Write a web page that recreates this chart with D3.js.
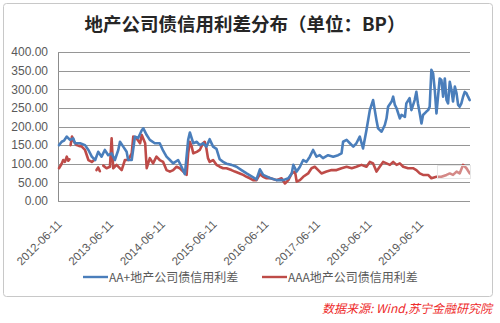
<!DOCTYPE html>
<html>
<head>
<meta charset="utf-8">
<script src="https://cdn.jsdelivr.net/npm/d3@7"></script>
<style>
  html, body { margin: 0; padding: 0; background: #fff; }
  svg { display: block; }
</style>
</head>
<body>
<svg id="chart" width="500" height="323"></svg>
<script>
// ---- data ----
const chartTitle = "地产公司债信用利差分布（单位：BP）";
const sourceNote = "数据来源: Wind,苏宁金融研究院";
const seriesNames = ["AA+地产公司债信用利差", "AAA地产公司债信用利差"];
const yTickValues = [0, 50, 100, 150, 200, 250, 300, 350, 400];
const xTickDates = ["2012-06-11", "2013-06-11", "2014-06-11", "2015-06-11",
                    "2016-06-11", "2017-06-11", "2018-06-11", "2019-06-11"];

// AA+ spread (BP)
const aaPlusDates = [
  "2012-06-11","2012-06-30","2012-07-16","2012-08-05","2012-08-28","2012-09-20","2012-10-02","2012-11-07",
  "2012-12-12","2013-01-05","2013-01-29","2013-02-22","2013-03-15","2013-04-08","2013-05-01","2013-05-25",
  "2013-06-18","2013-07-11","2013-08-04","2013-08-16","2013-09-08","2013-10-02","2013-10-13","2013-11-07",
  "2013-11-30","2013-12-23","2014-01-17","2014-01-28","2014-02-21","2014-03-15","2014-04-19","2014-05-24",
  "2014-06-17","2014-07-11","2014-08-04","2014-08-27","2014-10-01","2014-10-25","2014-11-18","2014-12-11",
  "2014-12-23","2015-01-16","2015-02-10","2015-03-03","2015-03-26","2015-04-19","2015-05-12","2015-06-05",
  "2015-06-29","2015-07-22","2015-08-15","2015-09-08","2015-10-13","2015-11-18","2015-12-23","2016-01-28",
  "2016-03-03","2016-04-07","2016-05-01","2016-05-24","2016-07-10","2016-08-27","2016-10-13","2016-11-18",
  "2016-12-12","2016-12-23","2017-01-16","2017-02-08","2017-03-03","2017-03-26","2017-04-19","2017-05-12",
  "2017-06-05","2017-06-28","2017-07-21","2017-08-26","2017-10-01","2017-11-05","2017-11-29","2017-12-10",
  "2018-01-04","2018-01-27","2018-02-20","2018-03-14","2018-04-07","2018-04-30","2018-05-24","2018-06-05",
  "2018-06-17","2018-07-10","2018-07-22","2018-08-03","2018-08-14","2018-09-08","2018-10-01","2018-10-13",
  "2018-10-24","2018-11-18","2018-11-29","2018-12-11","2018-12-23","2019-01-15","2019-01-27","2019-02-20",
  "2019-03-02","2019-03-25","2019-04-07","2019-04-30","2019-05-12","2019-05-23","2019-06-05","2019-06-17",
  "2019-06-28","2019-07-22","2019-08-03","2019-08-14","2019-08-26","2019-09-07","2019-09-19","2019-10-01",
  "2019-10-12","2019-10-24","2019-11-05","2019-11-17","2019-11-29","2019-12-11","2019-12-22","2020-01-03",
  "2020-01-15","2020-01-26","2020-02-08","2020-02-20","2020-03-02","2020-03-13","2020-03-25","2020-04-06",
  "2020-04-18","2020-04-30","2020-05-11","2020-05-23"
];
const aaPlusValues = [
  150, 159, 162, 173, 164, 168, 155, 155,
  150, 137, 119, 110, 132, 119, 137, 123,
  128, 110, 137, 159, 146, 132, 110, 110,
  173, 169, 190, 195, 177, 164, 155, 155,
  135, 119, 110, 101, 110, 92, 72, 164,
  184, 155, 159, 150, 155, 146, 166, 146,
  140, 112, 105, 100, 97, 92, 83, 74,
  66, 58, 85, 70, 62, 56, 56, 61,
  74, 97, 79, 92, 110, 105, 119, 137,
  119, 123, 115, 123, 119, 123, 128, 159,
  164, 155, 146, 155, 173, 141, 190, 217,
  244, 271, 244, 217, 195, 186, 204, 222,
  253, 267, 280, 258, 249, 222, 231, 226,
  262, 276, 244, 271, 293, 262, 235, 208,
  231, 240, 244, 253, 352, 343, 298, 235,
  280, 329, 325, 280, 329, 271, 262, 320,
  298, 267, 307, 289, 258, 253, 262, 280,
  293, 289, 280, 271
];

// AAA spread (BP); null marks a break in the series
const aaaDates = [
  "2012-06-11","2012-06-30","2012-07-11","2012-07-23","2012-08-05","2012-08-16","2012-08-24","2012-08-28",
  "2012-09-01","2012-09-11","2012-09-25","2012-10-14","2012-10-30","2012-11-19","2012-12-12","2013-01-05",
  "2013-01-29","2013-02-15","2013-02-24","2013-03-03","2013-03-15","2013-03-27","2013-04-10","2013-04-20",
  "2013-05-13","2013-06-06","2013-06-18","2013-06-29","2013-07-23","2013-08-28","2013-09-20","2013-10-13",
  "2013-11-07","2013-11-18","2013-12-12","2014-01-05","2014-01-17","2014-02-10","2014-02-21","2014-03-15",
  "2014-04-07","2014-05-01","2014-05-24","2014-06-17","2014-07-11","2014-08-04","2014-08-27","2014-09-20",
  "2014-10-13","2014-11-06","2014-11-30","2014-12-11","2014-12-23","2015-01-05","2015-01-16","2015-02-10",
  "2015-03-03","2015-03-26","2015-04-07","2015-04-19","2015-04-30","2015-05-12","2015-06-05","2015-06-29",
  "2015-07-22","2015-08-15","2015-09-08","2015-10-13","2015-11-06","2015-12-11","2016-01-04","2016-01-28",
  "2016-02-20","2016-03-14","2016-04-07","2016-05-01","2016-05-24","2016-06-17","2016-07-10","2016-08-27",
  "2016-10-01","2016-10-25","2016-11-18","2016-12-12","2017-01-04","2017-01-16","2017-02-08","2017-03-03",
  "2017-04-07","2017-05-01","2017-05-24","2017-06-17","2017-07-10","2017-08-15","2017-09-20","2017-10-25",
  "2017-11-29","2018-01-04","2018-02-09","2018-03-14","2018-04-19","2018-05-24","2018-06-17","2018-07-10",
  "2018-08-03","2018-08-26","2018-09-19","2018-10-13","2018-11-06","2018-11-29","2018-12-23","2019-01-15",
  "2019-02-08","2019-03-14","2019-04-18","2019-05-12","2019-06-05","2019-06-28","2019-08-03","2019-08-26",
  "2019-10-01","2019-11-05","2019-12-11","2020-01-03","2020-01-26","2020-02-20","2020-03-13","2020-04-06",
  "2020-04-30","2020-05-23"
];
const aaaValues = [
  88, 100, 110, 105, 119, 108, 112, null,
  150, 173, 160, 150, 148, 146, 137, 110,
  105, 110, null, 83, 90, 80, null, 95,
  88, 92, 168, 88, 97, 83, 110, 110,
  128, 173, 168, 155, 177, 155, 88, 115,
  101, 119, 110, 105, 83, 79, 83, 92,
  88, 79, 70, 128, 159, 146, 128, 132,
  137, 155, 159, 141, 115, 105, 110, 97,
  92, 88, 88, 83, 79, 74, 70, 65,
  61, 56, 56, 72, 65, 61, 62, 56,
  61, 47, 56, 74, 79, 52, 56, 65,
  74, 88, 92, 83, 74, 79, 83, 83,
  88, 92, 88, 92, 97, 92, 105, 101,
  79, 92, 105, 101, 97, 105, 97, 101,
  92, 88, 88, 83, 74, 70, 70, 61,
  65, 65, 70, 74, 70, 79, 74, 97,
  88, 74
];

// ---- drawing ----
const parse = d3.utcParse("%Y-%m-%d");
const colors = ["#4a7ebb", "#be4b48"];
const textColor = "#595959";
const cjk = "'Noto Sans CJK SC', 'Noto Sans', sans-serif";
const latin = "'Liberation Sans', Arial, sans-serif";

const svg = d3.select("#chart");

// chart frame
svg.append("rect")
  .attr("x", 3.5).attr("y", 3.5).attr("width", 489).attr("height", 293)
  .attr("rx", 3).attr("fill", "#fff").attr("stroke", "#c8c8c8").attr("stroke-width", 1);

const plot = { left: 58, right: 470, top: 52, bottom: 201 };

const x = d3.scaleUtc()
  .domain([parse("2012-06-04"), parse("2020-05-25")])
  .range([plot.left, plot.right]);
const y = d3.scaleLinear().domain([0, 400]).range([plot.bottom, plot.top]);

// title
svg.append("text")
  .attr("x", 245).attr("y", 31).attr("text-anchor", "middle")
  .attr("font-family", cjk).attr("font-size", 18.5).attr("font-weight", 700)
  .attr("fill", "#262626").text(chartTitle);

// y axis with gridlines
const yAxis = d3.axisLeft(y).tickValues(yTickValues).tickFormat(d3.format(".2f"))
  .tickSize(-(plot.right - plot.left)).tickPadding(8);
const gy = svg.append("g").attr("transform", `translate(${plot.left},0)`).call(yAxis);
gy.select(".domain").attr("stroke", "#8c8c8c").attr("shape-rendering", "crispEdges");
gy.selectAll(".tick line").attr("stroke", "#969696").attr("stroke-width", 1)
  .attr("shape-rendering", "crispEdges");
gy.selectAll(".tick text").attr("font-family", latin).attr("font-size", 12)
  .attr("fill", textColor).attr("x", -10);

// x axis labels (rotated)
const xAxis = d3.axisBottom(x).tickValues(xTickDates.map(parse))
  .tickFormat(d3.utcFormat("%Y-%m-%d")).tickSize(0);
const gx = svg.append("g").attr("transform", `translate(0,${plot.bottom})`).call(xAxis);
gx.select(".domain").remove();
gx.selectAll(".tick text")
  .attr("font-family", latin).attr("font-size", 11.5).attr("fill", textColor)
  .attr("text-anchor", "end").attr("dy", 0).attr("y", 0)
  .attr("transform", "translate(3,24) rotate(-45)");

// series lines
const line = d3.line()
  .defined(d => d.v !== null)
  .x(d => x(d.t)).y(d => y(d.v));

const series = [
  aaaDates.map((d, i) => ({ t: parse(d), v: aaaValues[i] })),
  aaPlusDates.map((d, i) => ({ t: parse(d), v: aaPlusValues[i] }))
];
const seriesColors = [colors[1], colors[0]];

// AAA drawn first, AA+ on top
series.forEach((s, i) => {
  svg.append("path").datum(s)
    .attr("fill", "none").attr("stroke", seriesColors[i])
    .attr("stroke-width", 2.6).attr("stroke-linejoin", "round").attr("stroke-linecap", "round")
    .attr("d", line);
});

// faint text box in the lower right of the plot
svg.append("rect")
  .attr("x", 437.5).attr("y", 165.5).attr("width", 33).attr("height", 13)
  .attr("fill", "#fff").attr("fill-opacity", 0.35)
  .attr("stroke", "#e6e6e6").attr("stroke-width", 1);

// legend
const legendItems = [
  { name: seriesNames[0], color: colors[0], x: 83 },
  { name: seriesNames[1], color: colors[1], x: 262 }
];
const lg = svg.append("g");
legendItems.forEach(it => {
  lg.append("line")
    .attr("x1", it.x).attr("x2", it.x + 25).attr("y1", 277).attr("y2", 277)
    .attr("stroke", it.color).attr("stroke-width", 2.4);
  lg.append("text")
    .attr("x", it.x + 26).attr("y", 281.5)
    .attr("font-family", cjk).attr("font-size", 12).attr("fill", textColor)
    .text(it.name);
});

// source note
svg.append("text")
  .attr("x", 492).attr("y", 313).attr("text-anchor", "end")
  .attr("font-family", cjk).attr("font-size", 12).attr("font-style", "italic")
  .attr("fill", "#ee2a2a").text(sourceNote);
</script>
</body>
</html>
